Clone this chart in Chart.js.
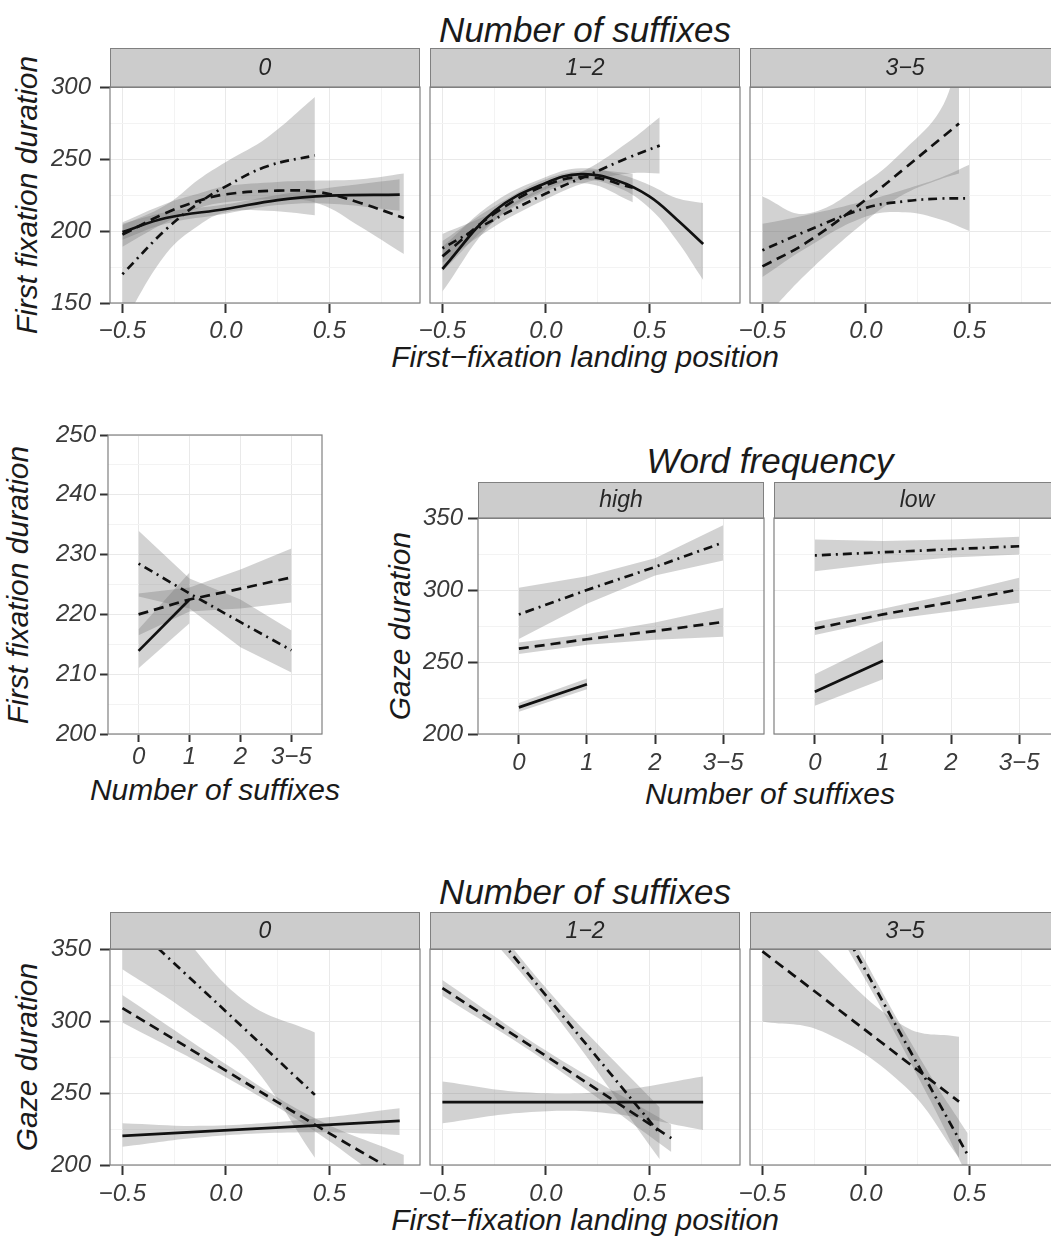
<!DOCTYPE html>
<html>
<head>
<meta charset="utf-8">
<script src="https://cdn.jsdelivr.net/npm/chart.js@4.4.1/dist/chart.umd.min.js"></script>
<style>
  html, body { margin: 0; padding: 0; background: #fff; }
  body { width: 1051px; height: 1238px; position: relative; overflow: hidden;
         font-family: "Liberation Sans", Arial, sans-serif; font-style: italic; color: #1a1a1a; }
  canvas { position: absolute; }
  .t { position: absolute; white-space: nowrap; line-height: 1; transform: translate(-50%, -50%); }
  .rot { transform: translate(-50%, -50%) rotate(-90deg); }
</style>
</head>
<body>
<div class="t" style="left:585px;top:29px;font-size:35px">Number of suffixes</div>
<div class="t rot" style="left:27px;top:195px;font-size:30px">First fixation duration</div>
<div class="t" style="left:585px;top:357px;font-size:30px">First−fixation landing position</div>

<div class="t rot" style="left:18px;top:585px;font-size:30px">First fixation duration</div>
<div class="t" style="left:215px;top:790px;font-size:30px">Number of suffixes</div>
<div class="t" style="left:770px;top:460px;font-size:35px">Word frequency</div>
<div class="t rot" style="left:400px;top:626px;font-size:30px">Gaze duration</div>
<div class="t" style="left:770px;top:794px;font-size:30px">Number of suffixes</div>

<div class="t" style="left:585px;top:891px;font-size:35px">Number of suffixes</div>
<div class="t rot" style="left:27px;top:1057px;font-size:30px">Gaze duration</div>
<div class="t" style="left:585px;top:1220px;font-size:30px">First−fixation landing position</div>

<script>
// ---------- axis breaks and category labels ----------
const landingGrid = [-0.5, -0.25, 0, 0.25, 0.5, 0.75];
const landingTicks = [-0.5, 0, 0.5];
const landingTickLabels = ['−0.5', '0.0', '0.5'];
const ffdGrid = [150, 175, 200, 225, 250, 275, 300];
const ffdTicks = [150, 200, 250, 300];
const ffdSmallGrid = [200, 205, 210, 215, 220, 225, 230, 235, 240, 245, 250];
const ffdSmallTicks = [200, 210, 220, 230, 240, 250];
const gazeGrid = [200, 225, 250, 275, 300, 325, 350];
const gazeTicks = [200, 250, 300, 350];
const suffixPos = [0, 1, 2, 3];
const suffixLabels = ['0', '1', '2', '3−5'];
const suffixGroups = ['0', '1−2', '3−5'];
const freqGroups = ['high', 'low'];

// ---------- first fixation duration ~ landing position, suffix group 0 ----------
const ffd0SolidX = [-0.5, -0.29, 0, 0.25, 0.5, 0.84];
const ffd0SolidFit = [199.3, 209, 215.3, 221.5, 224.5, 225.3];
const ffd0SolidLo = [194, 205, 212, 218, 219, 214];
const ffd0SolidHi = [205, 213, 218.5, 225, 230, 236];
const ffd0DashX = [-0.5, -0.29, -0.13, 0, 0.25, 0.45, 0.65, 0.86];
const ffd0DashFit = [197.5, 212.5, 221, 225.5, 228, 227, 219.5, 209];
const ffd0DashLo = [189, 206, 216, 220, 222, 219, 203, 184];
const ffd0DashHi = [206, 219, 226, 231, 234, 235, 236, 240];
const ffd0DotX = [-0.5, -0.29, -0.13, 0, 0.2, 0.43];
const ffd0DotFit = [170, 201, 219.5, 231, 245, 252.5];
const ffd0DotLo = [135, 184, 204, 213, 214, 211];
const ffd0DotHi = [204, 218, 236, 248, 265, 293];

// ---------- suffix group 1-2 ----------
const ffd12SolidX = [-0.5, -0.25, 0, 0.17, 0.35, 0.5, 0.63, 0.76];
const ffd12SolidFit = [173.6, 213.7, 233.4, 239.5, 234.7, 224, 208.4, 191];
const ffd12SolidLo = [158, 207, 229, 235.5, 230, 216, 194, 166];
const ffd12SolidHi = [189, 220, 237.5, 243.5, 239.5, 232, 223, 219.5];
const ffd12DashX = [-0.5, -0.25, 0, 0.2, 0.42];
const ffd12DashFit = [182.4, 212, 231.8, 237.5, 230];
const ffd12DashLo = [172, 207, 227.5, 233, 220];
const ffd12DashHi = [193, 217, 236, 242, 240];
const ffd12DotX = [-0.5, -0.25, 0, 0.2, 0.4, 0.55];
const ffd12DotFit = [188, 208, 226, 238.5, 251, 259.3];
const ffd12DotLo = [178, 203, 222, 234, 240, 240];
const ffd12DotHi = [198, 213, 231, 243, 262, 279];

// ---------- suffix group 3-5 ----------
const ffd35DashX = [-0.5, -0.29, 0, 0.19, 0.36, 0.45];
const ffd35DashFit = [175.4, 191.7, 221.8, 243.8, 264, 274.6];
const ffd35DashLo = [138, 170, 207, 226, 236, 240];
const ffd35DashHi = [224, 212, 234, 257, 284, 320];
const ffd35DotX = [-0.5, -0.29, 0, 0.19, 0.36, 0.5];
const ffd35DotFit = [186.6, 199.8, 216, 220.7, 222.5, 222.7];
const ffd35DotLo = [168, 188, 210, 213, 208, 200];
const ffd35DotHi = [205, 211, 221, 229, 237, 246];

// ---------- first fixation duration ~ number of suffixes ----------
const nsSolidX = [0, 1];
const nsSolidFit = [213.9, 222.5];
const nsSolidLo = [211, 218.5];
const nsSolidHi = [217.5, 227];
const nsDashFit = [220, 222.5, 224.3, 226.2];
const nsDashLo = [216.5, 220.5, 221, 222];
const nsDashHi = [223.5, 224.5, 227.5, 231];
const nsDotFit = [228.5, 223.5, 218.7, 214];
const nsDotLo = [223, 221, 214.5, 210.3];
const nsDotHi = [234, 226, 222.5, 217.3];

// ---------- gaze duration ~ number of suffixes, by word frequency ----------
const hiSolidFit = [218.5, 234.6];
const hiSolidLo = [215.5, 231];
const hiSolidHi = [221.5, 238.5];
const hiDashFit = [259.3, 265.8, 271.5, 277.8];
const hiDashLo = [255.5, 262, 265.5, 267.6];
const hiDashHi = [263.5, 269.5, 277.5, 287.7];
const hiDotFit = [283, 300, 316, 333];
const hiDotLo = [266, 290.5, 310, 320.5];
const hiDotHi = [301.5, 309.5, 322, 345];
const loSolidFit = [229.3, 250.8];
const loSolidLo = [219.6, 238.1];
const loSolidHi = [241.5, 264.6];
const loDashFit = [273.2, 283.1, 291.5, 300.4];
const loDashLo = [268.7, 279, 285, 291.2];
const loDashHi = [277.8, 287, 297, 308.5];
const loDotFit = [324, 326.2, 328.3, 330.4];
const loDotLo = [313, 318.5, 322.5, 324.7];
const loDotHi = [335, 334, 335, 336.9];

// ---------- gaze duration ~ landing position ----------
const gz0SolidX = [-0.5, -0.1, 0.4, 0.84];
const gz0SolidFit = [220.2, 223.3, 227.2, 230.6];
const gz0SolidLo = [212.7, 219.5, 222.7, 220.9];
const gz0SolidHi = [229, 227.2, 231.8, 239.4];
const gz0DashX = [-0.5, 0, 0.43, 0.86];
const gz0DashFit = [309, 265.5, 228, 192];
const gz0DashLo = [299, 261, 223.5, 178];
const gz0DashHi = [318, 270, 232.5, 207];
const gz0DotX = [-0.5, -0.2, 0.1, 0.43];
const gz0DotFit = [373.6, 333.4, 293.2, 248.7];
const gz0DotLo = [336, 308, 274, 205];
const gz0DotHi = [411, 358, 313, 292];
const gz12SolidX = [-0.5, -0.1, 0.3, 0.76];
const gz12SolidFit = [243.6, 243.6, 243.6, 243.6];
const gz12SolidLo = [229, 236.5, 236, 224.3];
const gz12SolidHi = [258, 250.5, 251, 261.4];
const gz12DashX = [-0.5, 0, 0.606];
const gz12DashFit = [322.9, 275.7, 218.6];
const gz12DashLo = [317.5, 272, 209];
const gz12DashHi = [328.5, 279.5, 228];
const gz12DotX = [-0.5, 0, 0.55];
const gz12DotFit = [404.8, 317.8, 222];
const gz12DotLo = [395, 312.5, 204];
const gz12DotHi = [414, 323, 240];
const gz35DashX = [-0.5, -0.21, 0.19, 0.45];
const gz35DashFit = [348.3, 316.5, 272.5, 244];
const gz35DashLo = [299.7, 292.7, 254.5, 205];
const gz35DashHi = [393, 346, 296, 289];
const gz35DotX = [-0.5, 0, 0.3, 0.492];
const gz35DotFit = [464.5, 334.7, 256.8, 207];
const gz35DotLo = [450, 328, 248, 192];
const gz35DotHi = [479, 341, 265, 222];

// ---------- styling ----------
const FONT = '"Liberation Sans", Arial, sans-serif';
const INK = '#111111';
const BAND = 'rgba(110,110,110,0.31)';
const GRID_MAJOR = '#e9e9e9';
const GRID_MINOR = '#f3f3f3';
const TICK = '#333333';
const TICK_TXT = '#3a3a3a';
const SOLID = [];
const DASHED = [10, 6];
const DOTDASH = [2, 5, 9, 5];

function pts(xs, ys) { return xs.map((x, i) => ({ x: x, y: ys[i] })); }

function buildDatasets(series, tension) {
  const lines = [], bands = [];
  series.forEach(s => {
    lines.push({ data: pts(s.x, s.fit), borderColor: INK, borderWidth: 2.7, borderDash: s.dash,
                 pointRadius: 0, fill: false, tension: tension, order: 0, clip: 0 });
  });
  series.forEach(s => {
    bands.push({ data: pts(s.x, s.hi), borderWidth: 0, borderColor: 'rgba(0,0,0,0)', backgroundColor: BAND,
                 pointRadius: 0, fill: '+1', tension: tension, order: 1, clip: 0 });
    bands.push({ data: pts(s.x, s.lo), borderWidth: 0, borderColor: 'rgba(0,0,0,0)',
                 pointRadius: 0, fill: false, tension: tension, order: 1, clip: 0 });
  });
  return lines.concat(bands);
}

// panel frame and facet strip
const panelFrame = {
  id: 'panelFrame',
  afterDraw(chart, args, o) {
    const ctx = chart.ctx, a = chart.chartArea;
    ctx.save();
    if (o.strip) {
      const h = o.stripH;
      ctx.fillStyle = '#cccccc';
      ctx.fillRect(a.left, a.top - h, a.right - a.left, h);
      ctx.strokeStyle = '#808080';
      ctx.lineWidth = 1;
      ctx.strokeRect(a.left + 0.5, a.top - h + 0.5, a.right - a.left - 1, h);
      ctx.fillStyle = '#262626';
      ctx.font = 'italic 23px ' + FONT;
      ctx.textAlign = 'center';
      ctx.textBaseline = 'middle';
      ctx.fillText(o.strip, (a.left + a.right) / 2, a.top - h / 2 + 1);
    }
    ctx.strokeStyle = '#808080';
    ctx.lineWidth = 1.2;
    ctx.strokeRect(a.left, a.top, a.right - a.left, a.bottom - a.top);
    ctx.restore();
  }
};

function idxOf(arr, v) { return arr.findIndex(a => Math.abs(a - v) < 1e-6); }

function panel(p) {
  const cw = p.leftW + p.w + p.rightPad;
  const ch = p.topPad + p.h + p.bottomH;
  const c = document.createElement('canvas');
  c.width = cw; c.height = ch;
  c.style.left = (p.x - p.leftW) + 'px';
  c.style.top = (p.y - p.topPad) + 'px';
  c.style.width = cw + 'px';
  c.style.height = ch + 'px';
  document.body.appendChild(c);
  const tickFont = { family: FONT, size: 24, style: 'italic' };
  const isMajor = (arr) => (ctx) => ctx.tick && idxOf(arr, ctx.tick.value) >= 0;
  const xMaj = isMajor(p.xTicks), yMaj = isMajor(p.yTicks);
  new Chart(c, {
    type: 'line',
    data: { datasets: p.datasets },
    options: {
      responsive: false, animation: false, devicePixelRatio: 1, events: [],
      layout: { padding: { top: p.topPad, right: p.rightPad, left: 0, bottom: 0 } },
      plugins: { legend: { display: false }, tooltip: { enabled: false },
                 panelFrame: { strip: p.strip, stripH: p.stripH } },
      scales: {
        x: {
          type: 'linear', min: p.xMin, max: p.xMax,
          afterBuildTicks: ax => { ax.ticks = p.xGrid.map(v => ({ value: v })); },
          afterFit: s => { s.height = p.bottomH; s.paddingLeft = 0; s.paddingRight = 0; },
          border: { display: false },
          grid: { color: ctx => xMaj(ctx) ? GRID_MAJOR : GRID_MINOR, lineWidth: 1,
                  tickLength: p.xTickLen, tickWidth: 2,
                  tickColor: ctx => xMaj(ctx) ? TICK : 'rgba(0,0,0,0)' },
          ticks: { autoSkip: false, maxRotation: 0, minRotation: 0, padding: p.xPad,
                   color: TICK_TXT, font: tickFont,
                   callback: v => { const i = idxOf(p.xTicks, v); return i >= 0 ? p.xLabels[i] : ''; } }
        },
        y: {
          type: 'linear', min: p.yMin, max: p.yMax,
          afterBuildTicks: ax => { ax.ticks = p.yGrid.map(v => ({ value: v })); },
          afterFit: s => { s.width = p.leftW; s.paddingTop = 0; s.paddingBottom = 0; },
          border: { display: false },
          grid: { color: ctx => yMaj(ctx) ? GRID_MAJOR : GRID_MINOR, lineWidth: 1,
                  drawTicks: p.showY, tickLength: p.yTickLen, tickWidth: 2,
                  tickColor: ctx => yMaj(ctx) ? TICK : 'rgba(0,0,0,0)' },
          ticks: { display: p.showY, autoSkip: false, padding: p.yPad,
                   color: TICK_TXT, font: tickFont,
                   callback: v => { const i = idxOf(p.yTicks, v); return i >= 0 ? String(p.yTicks[i]) : ''; } }
        }
      }
    },
    plugins: [panelFrame]
  });
}

// ---------- row 1: first fixation duration by landing position ----------
const row1Series = [
  [
    { x: ffd0SolidX, fit: ffd0SolidFit, lo: ffd0SolidLo, hi: ffd0SolidHi, dash: SOLID },
    { x: ffd0DashX, fit: ffd0DashFit, lo: ffd0DashLo, hi: ffd0DashHi, dash: DASHED },
    { x: ffd0DotX, fit: ffd0DotFit, lo: ffd0DotLo, hi: ffd0DotHi, dash: DOTDASH }
  ],
  [
    { x: ffd12SolidX, fit: ffd12SolidFit, lo: ffd12SolidLo, hi: ffd12SolidHi, dash: SOLID },
    { x: ffd12DashX, fit: ffd12DashFit, lo: ffd12DashLo, hi: ffd12DashHi, dash: DASHED },
    { x: ffd12DotX, fit: ffd12DotFit, lo: ffd12DotLo, hi: ffd12DotHi, dash: DOTDASH }
  ],
  [
    { x: ffd35DashX, fit: ffd35DashFit, lo: ffd35DashLo, hi: ffd35DashHi, dash: DASHED },
    { x: ffd35DotX, fit: ffd35DotFit, lo: ffd35DotLo, hi: ffd35DotHi, dash: DOTDASH }
  ]
];
const facetLeft = [110, 430, 750];
row1Series.forEach((series, i) => {
  panel({
    x: facetLeft[i], y: 87, w: 310, h: 216, leftW: 110, topPad: 42, rightPad: 30, bottomH: 50,
    xMin: -0.56, xMax: 0.938, yMin: 150, yMax: 300,
    xGrid: landingGrid, xTicks: landingTicks, xLabels: landingTickLabels,
    yGrid: ffdGrid, yTicks: ffdTicks, showY: i === 0,
    xTickLen: 10, yTickLen: 10, xPad: 4, yPad: 9,
    strip: suffixGroups[i], stripH: 39,
    datasets: buildDatasets(series, 0.4)
  });
});

// ---------- row 2 left: first fixation duration by number of suffixes ----------
panel({
  x: 108, y: 435, w: 214, h: 299, leftW: 108, topPad: 18, rightPad: 20, bottomH: 50,
  xMin: -0.6, xMax: 3.6, yMin: 200, yMax: 250,
  xGrid: suffixPos, xTicks: suffixPos, xLabels: suffixLabels,
  yGrid: ffdSmallGrid, yTicks: ffdSmallTicks, showY: true,
  xTickLen: 8, yTickLen: 8, xPad: 1, yPad: 4,
  strip: null, stripH: 0,
  datasets: buildDatasets([
    { x: nsSolidX, fit: nsSolidFit, lo: nsSolidLo, hi: nsSolidHi, dash: SOLID },
    { x: suffixPos, fit: nsDashFit, lo: nsDashLo, hi: nsDashHi, dash: DASHED },
    { x: suffixPos, fit: nsDotFit, lo: nsDotLo, hi: nsDotHi, dash: DOTDASH }
  ], 0)
});

// ---------- row 2 right: gaze duration by number of suffixes and word frequency ----------
const freqSeries = [
  [
    { x: nsSolidX, fit: hiSolidFit, lo: hiSolidLo, hi: hiSolidHi, dash: SOLID },
    { x: suffixPos, fit: hiDashFit, lo: hiDashLo, hi: hiDashHi, dash: DASHED },
    { x: suffixPos, fit: hiDotFit, lo: hiDotLo, hi: hiDotHi, dash: DOTDASH }
  ],
  [
    { x: nsSolidX, fit: loSolidFit, lo: loSolidLo, hi: loSolidHi, dash: SOLID },
    { x: suffixPos, fit: loDashFit, lo: loDashLo, hi: loDashHi, dash: DASHED },
    { x: suffixPos, fit: loDotFit, lo: loDotLo, hi: loDotHi, dash: DOTDASH }
  ]
];
const freqLeft = [478, 774];
freqSeries.forEach((series, i) => {
  panel({
    x: freqLeft[i], y: 518, w: 286, h: 216, leftW: 90, topPad: 40, rightPad: 20, bottomH: 50,
    xMin: -0.6, xMax: 3.6, yMin: 200, yMax: 350,
    xGrid: suffixPos, xTicks: suffixPos, xLabels: suffixLabels,
    yGrid: gazeGrid, yTicks: gazeTicks, showY: i === 0,
    xTickLen: 10, yTickLen: 10, xPad: 5, yPad: 5,
    strip: freqGroups[i], stripH: 36,
    datasets: buildDatasets(series, 0)
  });
});

// ---------- row 3: gaze duration by landing position ----------
const row3Series = [
  [
    { x: gz0SolidX, fit: gz0SolidFit, lo: gz0SolidLo, hi: gz0SolidHi, dash: SOLID },
    { x: gz0DashX, fit: gz0DashFit, lo: gz0DashLo, hi: gz0DashHi, dash: DASHED },
    { x: gz0DotX, fit: gz0DotFit, lo: gz0DotLo, hi: gz0DotHi, dash: DOTDASH }
  ],
  [
    { x: gz12SolidX, fit: gz12SolidFit, lo: gz12SolidLo, hi: gz12SolidHi, dash: SOLID },
    { x: gz12DashX, fit: gz12DashFit, lo: gz12DashLo, hi: gz12DashHi, dash: DASHED },
    { x: gz12DotX, fit: gz12DotFit, lo: gz12DotLo, hi: gz12DotHi, dash: DOTDASH }
  ],
  [
    { x: gz35DashX, fit: gz35DashFit, lo: gz35DashLo, hi: gz35DashHi, dash: DASHED },
    { x: gz35DotX, fit: gz35DotFit, lo: gz35DotLo, hi: gz35DotHi, dash: DOTDASH }
  ]
];
row3Series.forEach((series, i) => {
  panel({
    x: facetLeft[i], y: 949, w: 310, h: 216, leftW: 110, topPad: 40, rightPad: 30, bottomH: 50,
    xMin: -0.56, xMax: 0.938, yMin: 200, yMax: 350,
    xGrid: landingGrid, xTicks: landingTicks, xLabels: landingTickLabels,
    yGrid: gazeGrid, yTicks: gazeTicks, showY: i === 0,
    xTickLen: 10, yTickLen: 10, xPad: 5, yPad: 9,
    strip: suffixGroups[i], stripH: 37,
    datasets: buildDatasets(series, 0.4)
  });
});
</script>
</body>
</html>
